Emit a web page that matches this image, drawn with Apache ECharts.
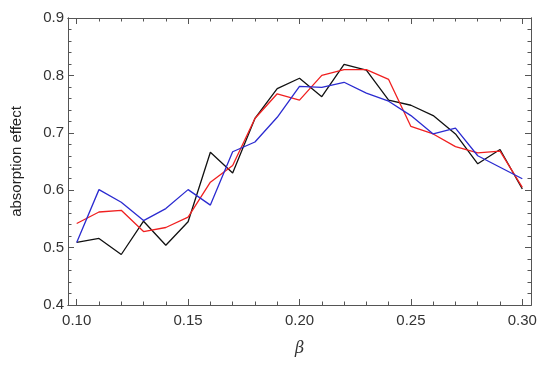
<!DOCTYPE html>
<html>
<head>
<meta charset="utf-8">
<script src="https://cdn.jsdelivr.net/npm/echarts@6/dist/echarts.min.js"></script>
<style>
  html, body { margin: 0; padding: 0; background: #fff; }
  #chart01 { width: 550px; height: 374px; }
</style>
</head>
<body>
<div id="chart01"></div>
<script>
// beta values along x
var betas = [0.10, 0.11, 0.12, 0.13, 0.14, 0.15, 0.16, 0.17, 0.18, 0.19, 0.20,
             0.21, 0.22, 0.23, 0.24, 0.25, 0.26, 0.27, 0.28, 0.29, 0.30];
var blackVals = [0.509, 0.516, 0.488, 0.546, 0.504, 0.545, 0.666, 0.630, 0.725, 0.777, 0.795,
                 0.763, 0.819, 0.809, 0.757, 0.748, 0.730, 0.698, 0.646, 0.671, 0.602];
var redVals   = [0.542, 0.562, 0.565, 0.528, 0.535, 0.553, 0.614, 0.643, 0.725, 0.768, 0.757,
                 0.800, 0.810, 0.810, 0.793, 0.711, 0.698, 0.676, 0.665, 0.668, 0.605];
var blueVals  = [0.509, 0.601, 0.579, 0.547, 0.568, 0.601, 0.574, 0.667, 0.684, 0.727, 0.781,
                 0.779, 0.788, 0.769, 0.755, 0.730, 0.698, 0.708, 0.660, 0.640, 0.620];
var xMajor = [0.10, 0.15, 0.20, 0.25, 0.30];
var xMinor = [0.10, 0.11, 0.12, 0.13, 0.14, 0.15, 0.16, 0.17, 0.18, 0.19, 0.20,
              0.21, 0.22, 0.23, 0.24, 0.25, 0.26, 0.27, 0.28, 0.29, 0.30];
var yMajor = [0.4, 0.5, 0.6, 0.7, 0.8, 0.9];
var yMinor = [0.42, 0.44, 0.46, 0.48, 0.52, 0.54, 0.56, 0.58, 0.62, 0.64, 0.66, 0.68,
              0.72, 0.74, 0.76, 0.78, 0.82, 0.84, 0.86, 0.88];

function pairs(vals) {
    var out = [];
    vals.forEach(function (v, i) { out.push([betas[i], v]); });
    return out;
}

var frameCol = '#555';
var txtFont  = 'Liberation Sans';

function xAx(pos, ticks, len, labels, name) {
    return {
        type: 'value', position: pos, min: 0.0961, max: 0.3039,
        name: name || '', nameLocation: 'middle', nameGap: 36,
        nameTextStyle: { fontFamily: 'DejaVu Serif', fontStyle: 'italic', fontSize: 16, color: '#333' },
        axisLine: { show: true, lineStyle: { color: frameCol, width: 1 } },
        axisTick: { show: true, inside: true, length: len, customValues: ticks,
                    lineStyle: { color: frameCol } },
        axisLabel: { show: labels, customValues: xMajor, margin: 8, fontSize: 15,
                     fontFamily: txtFont, color: '#333',
                     formatter: function (v) { return v.toFixed(2); } },
        splitLine: { show: false }
    };
}

function yAx(pos, ticks, len, labels, name) {
    return {
        type: 'value', position: pos, min: 0.4, max: 0.9,
        name: name || '', nameLocation: 'middle', nameGap: 44, nameRotate: 90,
        nameTextStyle: { fontFamily: txtFont, fontSize: 15, color: '#222' },
        axisLine: { show: true, lineStyle: { color: frameCol, width: 1 } },
        axisTick: { show: true, inside: true, length: len, customValues: ticks,
                    lineStyle: { color: frameCol } },
        axisLabel: { show: labels, customValues: yMajor, margin: 4, fontSize: 15,
                     fontFamily: txtFont, color: '#333',
                     formatter: function (v) { return v.toFixed(1); } },
        splitLine: { show: false }
    };
}

function line(vals, col) {
    return {
        type: 'line', data: pairs(vals), xAxisIndex: 0, yAxisIndex: 0,
        showSymbol: false, animation: false,
        lineStyle: { color: col, width: 1.3 }
    };
}

var cha01 = echarts.init(document.getElementById('chart01'));
var opt01 = {
    backgroundColor: '#fff',
    animation: false,
    grid: { left: 68, right: 19, top: 18, bottom: 69 },
    xAxis: [
        xAx('bottom', xMajor, 6, true, 'β'),
        xAx('bottom', xMinor, 3.5, false),
        xAx('top', xMajor, 6, false),
        xAx('top', xMinor, 3.5, false)
    ],
    yAxis: [
        yAx('left', yMajor, 6, true, 'absorption effect'),
        yAx('left', yMinor, 3.5, false),
        yAx('right', yMajor, 6, false),
        yAx('right', yMinor, 3.5, false)
    ],
    series: [
        line(blackVals, '#111111'),
        line(redVals, '#f02020'),
        line(blueVals, '#2b2bd0')
    ]
};
cha01.setOption(opt01);
</script>
</body>
</html>
